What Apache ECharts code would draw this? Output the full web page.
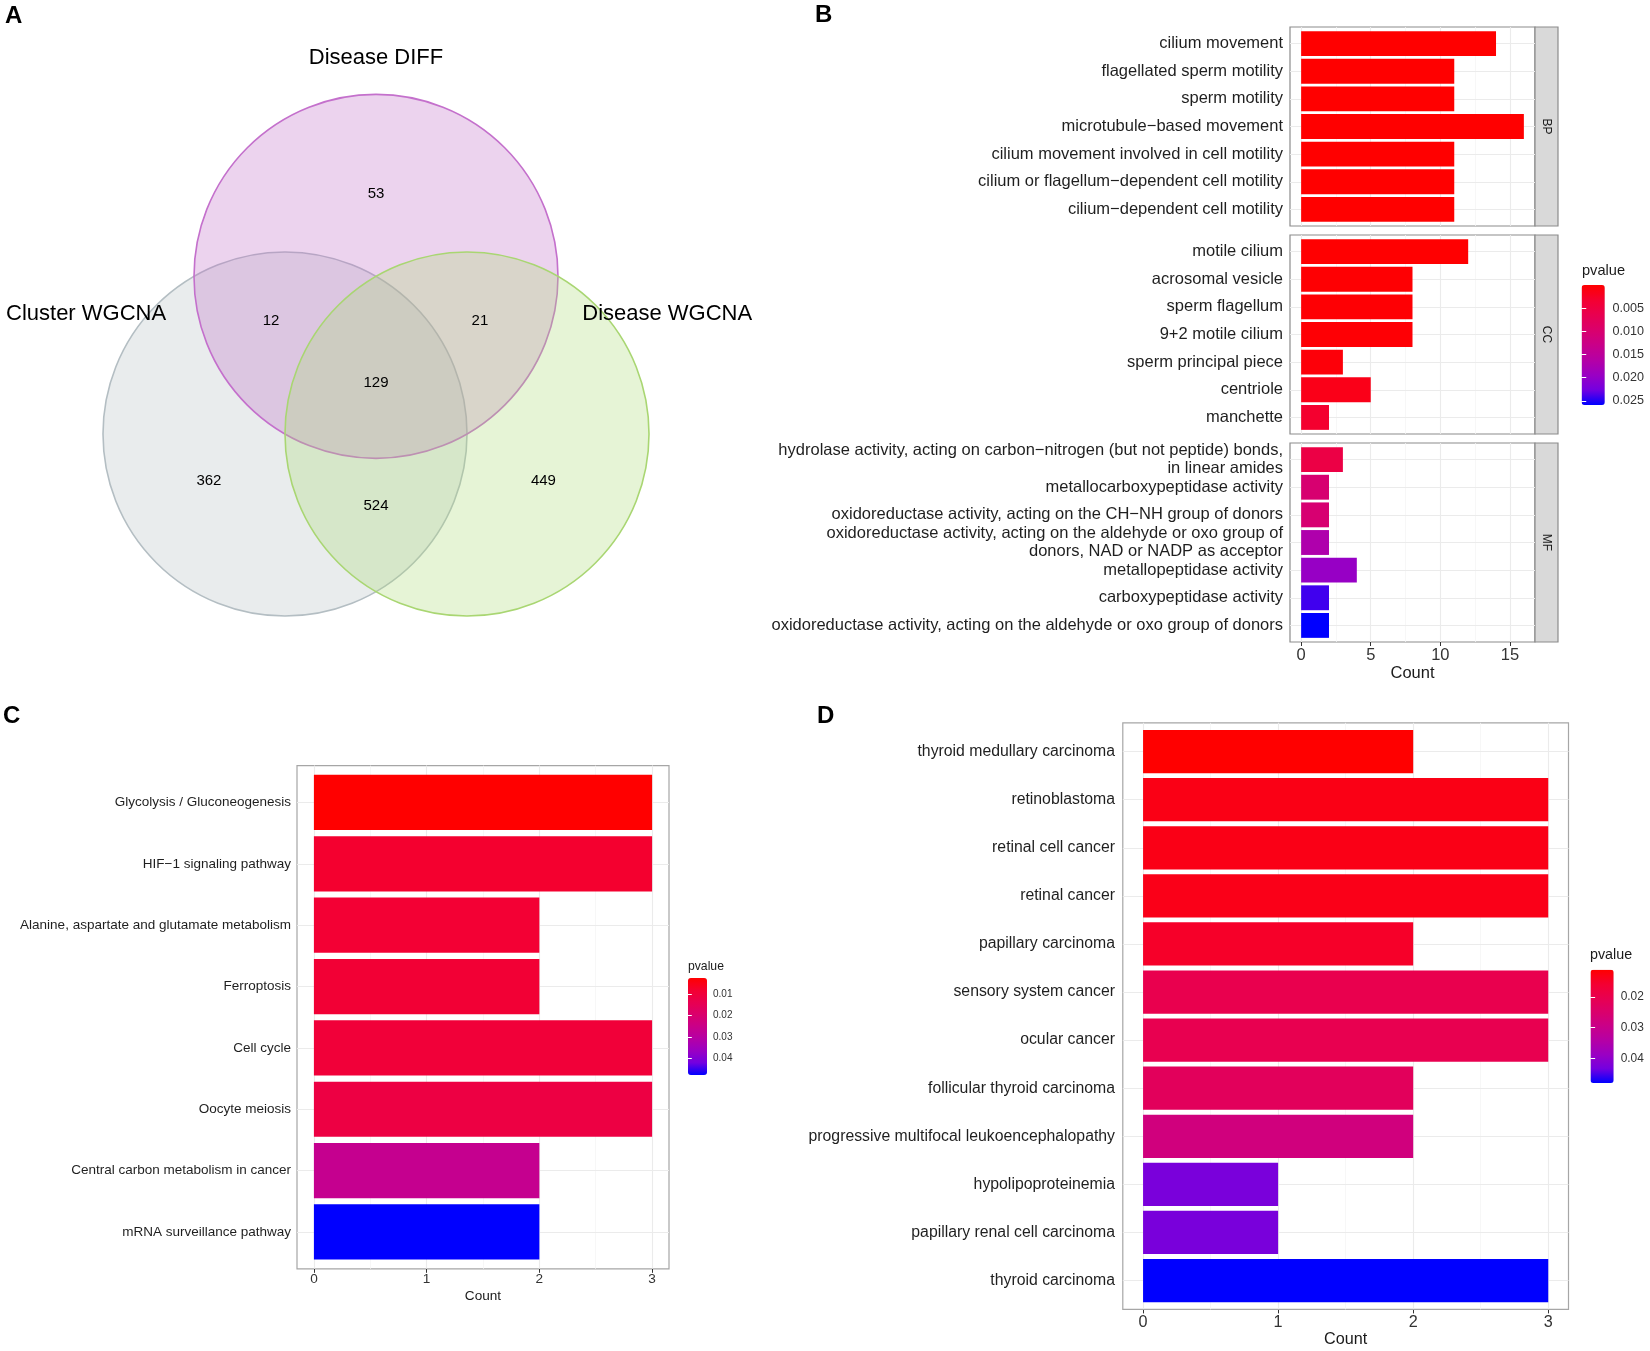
<!DOCTYPE html>
<html>
<head>
<meta charset="utf-8">
<script src="https://cdn.jsdelivr.net/npm/echarts@6/dist/echarts.min.js"></script>
<style>
html,body{margin:0;padding:0;background:#fff;}
#chart{width:1650px;height:1351px;}
</style>
</head>
<body>
<div id="chart"></div>
<script>
// ===================== DATA =====================
// Panel A: Venn diagram
const vennSets = ['Disease DIFF', 'Cluster WGCNA', 'Disease WGCNA'];
const vennRegions = ['DIFF only', 'DIFF & Cluster', 'DIFF & Disease', 'all three', 'Cluster only', 'Cluster & Disease', 'Disease only'];
const vennCounts = [53, 12, 21, 129, 362, 524, 449];

// Panel B: GO enrichment (facets BP / CC / MF)
const bpTerms = ['cilium movement', 'flagellated sperm motility', 'sperm motility', 'microtubule\u2212based movement',
  'cilium movement involved in cell motility', 'cilium or flagellum\u2212dependent cell motility', 'cilium\u2212dependent cell motility'];
const bpCounts = [14, 11, 11, 16, 11, 11, 11];
const bpPvalues = [0.00000002, 0.0000001, 0.0000001, 0.00000001, 0.0000002, 0.0000002, 0.0000002];

const ccTerms = ['motile cilium', 'acrosomal vesicle', 'sperm flagellum', '9+2 motile cilium', 'sperm principal piece', 'centriole', 'manchette'];
const ccCounts = [12, 8, 8, 8, 3, 5, 2];
const ccPvalues = [0.00005, 0.0002, 0.00025, 0.0003, 0.0006, 0.0016, 0.0031];

const mfTerms = ['hydrolase activity, acting on carbon\u2212nitrogen (but not peptide) bonds,\nin linear amides',
  'metallocarboxypeptidase activity', 'oxidoreductase activity, acting on the CH\u2212NH group of donors',
  'oxidoreductase activity, acting on the aldehyde or oxo group of\ndonors, NAD or NADP as acceptor',
  'metallopeptidase activity', 'carboxypeptidase activity', 'oxidoreductase activity, acting on the aldehyde or oxo group of donors'];
const mfCounts = [3, 2, 2, 2, 4, 2, 2];
const mfPvalues = [0.0053, 0.0102, 0.0103, 0.0169, 0.0197, 0.0241, 0.0259];

const bTicks = [0, 5, 10, 15];
const bLegendTicks = [0.005, 0.010, 0.015, 0.020, 0.025];

// Panel C: KEGG
const cTerms = ['Glycolysis / Gluconeogenesis', 'HIF\u22121 signaling pathway', 'Alanine, aspartate and glutamate metabolism',
  'Ferroptosis', 'Cell cycle', 'Oocyte meiosis', 'Central carbon metabolism in cancer', 'mRNA surveillance pathway'];
const cCounts = [3, 3, 2, 2, 3, 3, 2, 2];
const cPvalues = [0.0023, 0.0078, 0.0086, 0.0088, 0.0095, 0.0113, 0.0264, 0.0480];
const cTicks = [0, 1, 2, 3];
const cLegendTicks = [0.01, 0.02, 0.03, 0.04];

// Panel D: DO
const dTerms = ['thyroid medullary carcinoma', 'retinoblastoma', 'retinal cell cancer', 'retinal cancer', 'papillary carcinoma',
  'sensory system cancer', 'ocular cancer', 'follicular thyroid carcinoma', 'progressive multifocal leukoencephalopathy',
  'hypolipoproteinemia', 'papillary renal cell carcinoma', 'thyroid carcinoma'];
const dCounts = [2, 3, 3, 3, 2, 3, 3, 2, 2, 1, 1, 3];
const dPvalues = [0.0110, 0.0130, 0.0131, 0.0133, 0.0149, 0.0200, 0.0203, 0.0221, 0.0277, 0.0426, 0.0427, 0.0481];
const dTicks = [0, 1, 2, 3];
const dLegendTicks = [0.02, 0.03, 0.04];

// ===================== STYLE / LAYOUT =====================
const FONT = "'Liberation Sans', Arial, Helvetica, sans-serif";
const GRAD = ['#ff0000', '#f40031', '#e80050', '#da006c', '#c90089', '#b500a5', '#9a00c3', '#7300e0', '#0000ff'];
const TXT = '#1f1f1f';

const chart = echarts.init(document.getElementById('chart'), null, {renderer: 'canvas'});
const option = {
  animation: false,
  backgroundColor: '#ffffff',
  textStyle: {fontFamily: FONT},
  title: [], grid: [], xAxis: [], yAxis: [], series: [], visualMap: [], graphic: []
};

function addTitle(text, left, top, size, bold) {
  option.title.push({text, left, top, padding: 0,
    textStyle: {fontSize: size, fontWeight: bold ? 'bold' : 'normal', color: bold ? '#000' : '#1a1a1a', fontFamily: FONT}});
}

// ---------- Panel A: Venn ----------
(function () {
  const unit = 182;               // px per radius unit
  const ox = 376, oy = 434;       // origin position
  const xr = [-2, 2], yr = [-1.2, 2.3];
  const g = option.grid.length;
  option.grid.push({left: ox + xr[0] * unit, top: oy - yr[1] * unit, width: (xr[1] - xr[0]) * unit,
    height: (yr[1] - yr[0]) * unit, show: false, outerBoundsMode: 'none'});
  const xi = option.xAxis.length, yi = option.yAxis.length;
  option.xAxis.push({gridIndex: g, type: 'value', min: xr[0], max: xr[1], show: false});
  option.yAxis.push({gridIndex: g, type: 'value', min: yr[0], max: yr[1], show: false});
  // circle geometry (equilateral triangle of centres, side = radius)
  const centres = [[0, 0.866], [-0.5, 0], [0.5, 0]];
  const fills = ['rgba(192,108,198,0.30)', 'rgba(182,192,195,0.30)', 'rgba(172,218,118,0.30)'];
  const strokes = ['#c470cc', '#b4bec3', '#a9d672'];
  const drawOrder = [1, 0, 2];
  option.series.push({
    type: 'custom', xAxisIndex: xi, yAxisIndex: yi, silent: true, z: 2, clip: false,
    data: drawOrder.map(k => [centres[k][0], centres[k][1], 1, k]),
    renderItem: function (params, api) {
      const c = api.coord([api.value(0), api.value(1)]);
      const s = api.size([api.value(2), api.value(2)]);
      const k = api.value(3);
      return {type: 'circle', shape: {cx: c[0], cy: c[1], r: s[0]},
        style: {fill: fills[k], stroke: strokes[k], lineWidth: 1.6}};
    }
  });
  const namePos = [[0, 2.066], [-1.593, 0.659], [1.6, 0.659]];
  option.series.push({
    type: 'scatter', xAxisIndex: xi, yAxisIndex: yi, silent: true, z: 3, symbolSize: 1,
    itemStyle: {color: 'transparent'},
    data: vennSets.map((s, i) => ({name: s, value: namePos[i]})),
    label: {show: true, position: 'inside', formatter: '{b}', fontSize: 22, color: '#000', opacity: 1,
      textBorderWidth: 0, fontFamily: FONT}
  });
  const regionPos = [[0, 1.319], [-0.577, 0.621], [0.571, 0.621], [0, 0.279], [-0.918, -0.258], [0, -0.396], [0.92, -0.258]];
  option.series.push({
    type: 'scatter', xAxisIndex: xi, yAxisIndex: yi, silent: true, z: 3, symbolSize: 1,
    itemStyle: {color: 'transparent'},
    data: vennCounts.map((v, i) => ({name: String(v), value: regionPos[i]})),
    label: {show: true, position: 'inside', formatter: '{b}', fontSize: 15, color: '#000', opacity: 1,
      textBorderWidth: 0, fontFamily: FONT}
  });
})();

// ---------- bar panel helper ----------
function barPanel(cfg) {
  const gF = option.grid.length;
  option.grid.push({left: cfg.left, top: cfg.top, width: cfg.width, height: cfg.height, show: true,
    borderColor: cfg.border, borderWidth: 1.2, backgroundColor: 'transparent', outerBoundsMode: 'none'});
  const n = cfg.terms.length;
  const unit = cfg.height / (n + 0.2);
  const inset = unit * 0.1;
  const gB = gF + 1;
  option.grid.push({left: cfg.left, top: cfg.top + inset, width: cfg.width, height: cfg.height - 2 * inset,
    show: false, outerBoundsMode: 'none'});
  const xF = option.xAxis.length, yF = option.yAxis.length;
  option.xAxis.push({gridIndex: gF, type: 'value', min: cfg.xMin, max: cfg.xMax,
    axisLine: {show: false}, splitLine: {show: false}, minorSplitLine: {show: false},
    axisTick: {show: cfg.showX, length: 4, lineStyle: {color: '#333', width: 1}, customValues: cfg.ticks},
    axisLabel: {show: cfg.showX, customValues: cfg.ticks, fontSize: cfg.tickFont, color: '#333', margin: cfg.xMargin, fontFamily: FONT},
    name: cfg.showX ? 'Count' : '', nameLocation: 'middle', nameGap: cfg.nameGap,
    nameTextStyle: {fontSize: cfg.tickFont, color: '#1a1a1a', fontFamily: FONT}});
  option.yAxis.push({gridIndex: gF, type: 'value', min: 0, max: 1, show: false});
  option.xAxis.push({gridIndex: gB, type: 'value', min: cfg.xMin, max: cfg.xMax, show: false});
  option.yAxis.push({gridIndex: gB, type: 'category', data: cfg.terms, inverse: true,
    axisLine: {show: false}, splitLine: {show: false},
    axisTick: {show: true, alignWithLabel: true, length: 4, lineStyle: {color: '#333', width: 1}},
    axisLabel: {interval: 0, fontSize: cfg.labelFont, color: TXT, margin: cfg.yMargin,
      lineHeight: cfg.labelFont * 1.13, fontFamily: FONT}});
  const minor = [];
  for (let i = 0; i < cfg.ticks.length - 1; i++) minor.push((cfg.ticks[i] + cfg.ticks[i + 1]) / 2);
  // vertical grid lines (major + minor) on the full panel
  option.series.push({type: 'line', xAxisIndex: xF, yAxisIndex: yF, silent: true, symbol: 'none',
    lineStyle: {opacity: 0}, data: [[cfg.xMin, 0]],
    markLine: {silent: true, symbol: ['none', 'none'], animation: false, label: {show: false},
      data: cfg.ticks.map(v => ({xAxis: v, lineStyle: {color: '#ebebeb', width: 1.1, type: 'solid'}}))
        .concat(minor.map(v => ({xAxis: v, lineStyle: {color: '#f5f5f5', width: 0.8, type: 'solid'}})))}});
  const sIdx = option.series.length;
  option.series.push({type: 'bar', xAxisIndex: xF + 1, yAxisIndex: yF + 1, barWidth: '90%', z: 10, silent: true,
    data: cfg.terms.map((t, i) => [cfg.counts[i], t, cfg.pvalues[i]]), encode: {x: 0, y: 1},
    markLine: {silent: true, symbol: ['none', 'none'], animation: false, label: {show: false},
      lineStyle: {color: '#ebebeb', width: 1.1, type: 'solid'},
      data: cfg.terms.map(t => ({yAxis: t}))}});
  return sIdx;
}

function legendBar(cfg) {
  option.visualMap.push({type: 'continuous', show: true, min: cfg.min, max: cfg.max, dimension: 2,
    seriesIndex: cfg.series, inRange: {color: GRAD}, calculable: false, inverse: true, orient: 'vertical',
    left: cfg.left, top: cfg.top, itemWidth: cfg.w, itemHeight: cfg.h, padding: 0, text: null,
    hoverLink: false, realtime: false});
  const g = option.grid.length;
  option.grid.push({left: cfg.left, top: cfg.top, width: cfg.w, height: cfg.h, show: false, outerBoundsMode: 'none'});
  option.xAxis.push({gridIndex: g, type: 'value', min: 0, max: 1, show: false});
  const tickStyle = {show: true, inside: true, length: cfg.w / 5, lineStyle: {color: '#ffffff', width: 1}, customValues: cfg.ticks};
  option.yAxis.push({gridIndex: g, type: 'value', position: 'right', inverse: true, min: cfg.min, max: cfg.max, z: 10,
    axisLine: {show: false}, splitLine: {show: false}, axisTick: tickStyle,
    axisLabel: {customValues: cfg.ticks, formatter: v => Number(v).toFixed(cfg.dec), fontSize: cfg.font,
      color: '#333', margin: cfg.margin, fontFamily: FONT}});
  option.yAxis.push({gridIndex: g, type: 'value', position: 'left', inverse: true, min: cfg.min, max: cfg.max, z: 10,
    axisLine: {show: false}, splitLine: {show: false}, axisTick: tickStyle, axisLabel: {show: false}});
  addTitle('pvalue', cfg.titleLeft, cfg.titleTop, cfg.titleFont, false);
}

// ---------- Panel B ----------
const bFacets = [
  {terms: bpTerms, counts: bpCounts, pvalues: bpPvalues, strip: 'BP'},
  {terms: ccTerms, counts: ccCounts, pvalues: ccPvalues, strip: 'CC'},
  {terms: mfTerms, counts: mfCounts, pvalues: mfPvalues, strip: 'MF'}
];
const bLeft = 1290, bWidth = 245, bTops = [27, 235, 443], bHeight = 199, stripW = 23;
const bSeries = bFacets.map((f, i) => {
  const s = barPanel({left: bLeft, top: bTops[i], width: bWidth, height: bHeight, xMin: -0.8, xMax: 16.8,
    ticks: bTicks, terms: f.terms, counts: f.counts, pvalues: f.pvalues, showX: i === 2,
    labelFont: 16.5, tickFont: 16.5, yMargin: 7, xMargin: 5, nameGap: 23, border: '#8c8c8c'});
  option.graphic.push({type: 'rect', shape: {x: bLeft + bWidth, y: bTops[i], width: stripW, height: bHeight},
    style: {fill: '#d9d9d9', stroke: '#8c8c8c', lineWidth: 1.2}, silent: true, z: 5});
  option.graphic.push({type: 'text', x: bLeft + bWidth + stripW / 2, y: bTops[i] + bHeight / 2, rotation: -Math.PI / 2,
    style: {text: f.strip, fontSize: 12, fontFamily: FONT, fill: '#1a1a1a', align: 'center', verticalAlign: 'middle'},
    silent: true, z: 6});
  return s;
});
const bAllP = bpPvalues.concat(ccPvalues, mfPvalues);
legendBar({series: bSeries, min: Math.min(...bAllP), max: Math.max(...bAllP), left: 1581.6, top: 285, w: 23.2, h: 120,
  ticks: bLegendTicks, dec: 3, font: 12.6, margin: 7.8, titleLeft: 1582, titleTop: 263, titleFont: 14.6});

// ---------- Panel C ----------
const cS = barPanel({left: 297, top: 765.6, width: 372, height: 503.2, xMin: -0.15, xMax: 3.15, ticks: cTicks,
  terms: cTerms, counts: cCounts, pvalues: cPvalues, showX: true, labelFont: 13.5, tickFont: 13.6,
  yMargin: 6, xMargin: 3.5, nameGap: 20, border: '#a6a6a6'});
legendBar({series: [cS], min: Math.min(...cPvalues), max: Math.max(...cPvalues), left: 688, top: 978, w: 19, h: 97,
  ticks: cLegendTicks, dec: 2, font: 10, margin: 6, titleLeft: 688, titleTop: 960.5, titleFont: 12.2});

// ---------- Panel D ----------
const dS = barPanel({left: 1122.8, top: 722.8, width: 445.7, height: 586.6, xMin: -0.15, xMax: 3.15, ticks: dTicks,
  terms: dTerms, counts: dCounts, pvalues: dPvalues, showX: true, labelFont: 15.8, tickFont: 16.2,
  yMargin: 7.8, xMargin: 5, nameGap: 22.5, border: '#a6a6a6'});
legendBar({series: [dS], min: Math.min(...dPvalues), max: Math.max(...dPvalues), left: 1590.5, top: 969.7, w: 23.2, h: 113.3,
  ticks: dLegendTicks, dec: 2, font: 11.9, margin: 7, titleLeft: 1590, titleTop: 948.5, titleFont: 14.3});

// ---------- panel letters ----------
addTitle('A', 5, 4, 24, true);
addTitle('B', 815, 3, 24, true);
addTitle('C', 3, 704, 24, true);
addTitle('D', 817, 704, 24, true);

chart.setOption(option);
</script>
</body>
</html>
